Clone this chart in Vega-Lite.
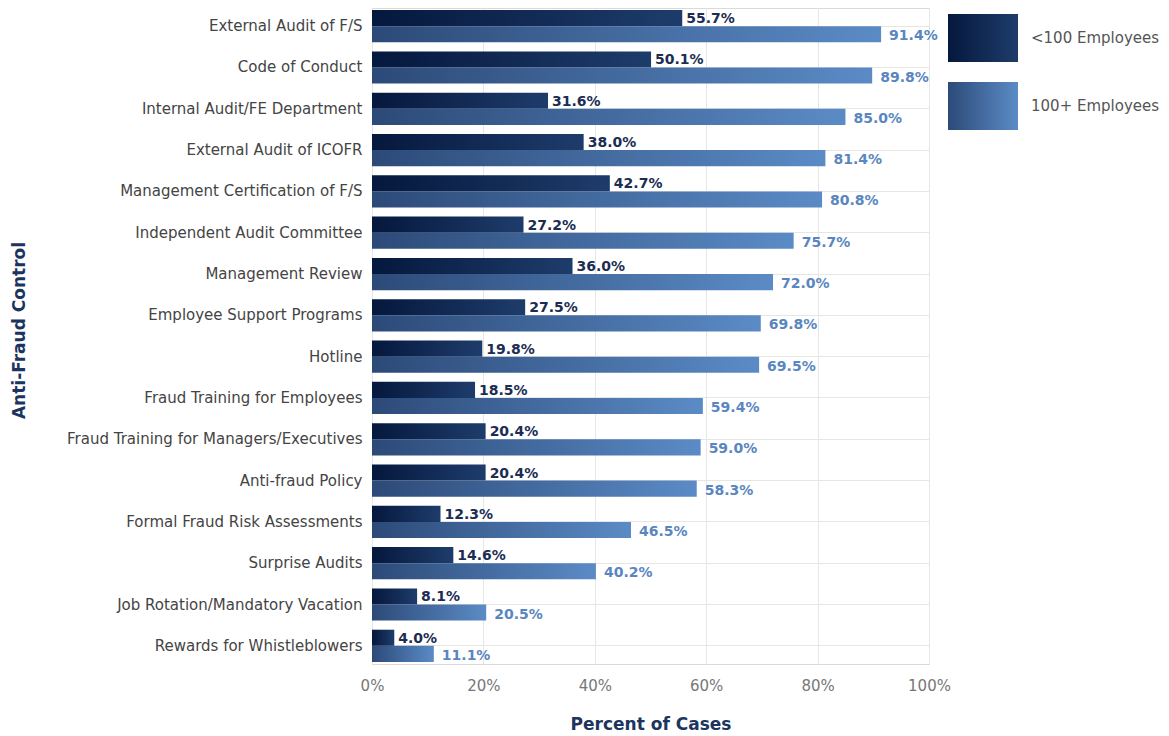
{
  "$schema": "https://vega.github.io/schema/vega-lite/v6.json",
  "autosize": {"type": "none"},
  "padding": {"left": 372, "top": 8, "right": 240, "bottom": 72},
  "width": 557,
  "height": 656,
  "background": "white",
  "config": {
    "font": "DejaVu Sans",
    "view": {"stroke": "#d9d9d9", "strokeWidth": 1},
    "axis": {"gridColor": "#e6e6e6", "domain": false, "ticks": false},
    "legend": {
      "orient": "none", "legendX": 576,
      "symbolType": "M-1,-0.686H1V0.686H-1Z", "symbolSize": 4900,
      "symbolStrokeWidth": 0, "symbolStrokeColor": "transparent", "symbolOpacity": 1,
      "labelFontSize": 15, "labelColor": "#555555", "labelOffset": 13
    }
  },
  "data": {
    "values": [
      {"control": "External Audit of F/S", "series": "<100 Employees", "value": 0.557},
      {"control": "External Audit of F/S", "series": "100+ Employees", "value": 0.914},
      {"control": "Code of Conduct", "series": "<100 Employees", "value": 0.501},
      {"control": "Code of Conduct", "series": "100+ Employees", "value": 0.898},
      {"control": "Internal Audit/FE Department", "series": "<100 Employees", "value": 0.316},
      {"control": "Internal Audit/FE Department", "series": "100+ Employees", "value": 0.850},
      {"control": "External Audit of ICOFR", "series": "<100 Employees", "value": 0.380},
      {"control": "External Audit of ICOFR", "series": "100+ Employees", "value": 0.814},
      {"control": "Management Certification of F/S", "series": "<100 Employees", "value": 0.427},
      {"control": "Management Certification of F/S", "series": "100+ Employees", "value": 0.808},
      {"control": "Independent Audit Committee", "series": "<100 Employees", "value": 0.272},
      {"control": "Independent Audit Committee", "series": "100+ Employees", "value": 0.757},
      {"control": "Management Review", "series": "<100 Employees", "value": 0.360},
      {"control": "Management Review", "series": "100+ Employees", "value": 0.720},
      {"control": "Employee Support Programs", "series": "<100 Employees", "value": 0.275},
      {"control": "Employee Support Programs", "series": "100+ Employees", "value": 0.698},
      {"control": "Hotline", "series": "<100 Employees", "value": 0.198},
      {"control": "Hotline", "series": "100+ Employees", "value": 0.695},
      {"control": "Fraud Training for Employees", "series": "<100 Employees", "value": 0.185},
      {"control": "Fraud Training for Employees", "series": "100+ Employees", "value": 0.594},
      {"control": "Fraud Training for Managers/Executives", "series": "<100 Employees", "value": 0.204},
      {"control": "Fraud Training for Managers/Executives", "series": "100+ Employees", "value": 0.590},
      {"control": "Anti-fraud Policy", "series": "<100 Employees", "value": 0.204},
      {"control": "Anti-fraud Policy", "series": "100+ Employees", "value": 0.583},
      {"control": "Formal Fraud Risk Assessments", "series": "<100 Employees", "value": 0.123},
      {"control": "Formal Fraud Risk Assessments", "series": "100+ Employees", "value": 0.465},
      {"control": "Surprise Audits", "series": "<100 Employees", "value": 0.146},
      {"control": "Surprise Audits", "series": "100+ Employees", "value": 0.402},
      {"control": "Job Rotation/Mandatory Vacation", "series": "<100 Employees", "value": 0.081},
      {"control": "Job Rotation/Mandatory Vacation", "series": "100+ Employees", "value": 0.205},
      {"control": "Rewards for Whistleblowers", "series": "<100 Employees", "value": 0.040},
      {"control": "Rewards for Whistleblowers", "series": "100+ Employees", "value": 0.111}
    ]
  },
  "encoding": {
    "y": {
      "field": "control", "type": "nominal", "sort": null,
      "scale": {"paddingInner": 0.22, "paddingOuter": 0.05},
      "axis": {
        "title": "Anti-Fraud Control", "titleFontSize": 17, "titleFontWeight": "bold",
        "titleColor": "#1c355f", "titleX": -353, "titleY": 322, "titleBaseline": "middle", "titleAngle": 270,
        "labelFontSize": 15, "labelColor": "#444444", "labelPadding": 10, "labelLimit": 0,
        "grid": true
      }
    },
    "yOffset": {"field": "series", "type": "nominal", "sort": ["<100 Employees", "100+ Employees"], "scale": {"domain": ["<100 Employees", "100+ Employees"], "paddingInner": 0, "paddingOuter": 0}},
    "x": {
      "field": "value", "type": "quantitative",
      "scale": {"domain": [0, 1]},
      "axis": {
        "title": "Percent of Cases", "titleFontSize": 17, "titleFontWeight": "bold",
        "titleColor": "#1c355f", "titlePadding": 23,
        "values": [0, 0.2, 0.4, 0.6, 0.8, 1], "format": ".0%",
        "labelFontSize": 15, "labelColor": "#777777", "labelPadding": 14, "labelFlush": false,
        "grid": true
      }
    }
  },
  "layer": [
    {
      "transform": [{"filter": "datum.series === '<100 Employees'"}],
      "mark": {
        "type": "bar", "strokeWidth": 0,
        "fill": {"gradient": "linear", "id": "barDark", "x1": 0, "y1": 0, "x2": 1, "y2": 0, "stops": [{"offset": 0, "color": "#05183d"}, {"offset": 1, "color": "#1e3c6b"}]}
      },
      "encoding": {
        "stroke": {
          "field": "series", "type": "nominal",
          "scale": {"domain": ["<100 Employees"], "range": ["#0f2a55"]},
          "legend": {"title": null, "legendY": -5}
        }
      }
    },
    {
      "transform": [{"filter": "datum.series === '100+ Employees'"}],
      "mark": {
        "type": "bar", "strokeWidth": 0,
        "fill": {"gradient": "linear", "id": "barLight", "x1": 0, "y1": 0, "x2": 1, "y2": 0, "stops": [{"offset": 0, "color": "#2c4a78"}, {"offset": 1, "color": "#5b8bc6"}]}
      },
      "encoding": {
        "opacity": {
          "field": "series", "type": "nominal",
          "scale": {"domain": ["100+ Employees"], "range": [1]},
          "legend": {"title": null, "legendY": 63}
        }
      }
    },
    {
      "transform": [{"filter": "datum.series === '<100 Employees'"}],
      "mark": {"type": "text", "align": "left", "baseline": "middle", "dx": 4, "dy": 1, "fontSize": 14, "fontWeight": "bold", "color": "#1b2d52"},
      "encoding": {"text": {"field": "value", "type": "quantitative", "format": ".1%"}}
    },
    {
      "transform": [{"filter": "datum.series === '100+ Employees'"}],
      "mark": {"type": "text", "align": "left", "baseline": "middle", "dx": 8, "dy": 2, "fontSize": 14, "fontWeight": "bold", "color": "#5a86c0"},
      "encoding": {"text": {"field": "value", "type": "quantitative", "format": ".1%"}}
    }
  ]
}
